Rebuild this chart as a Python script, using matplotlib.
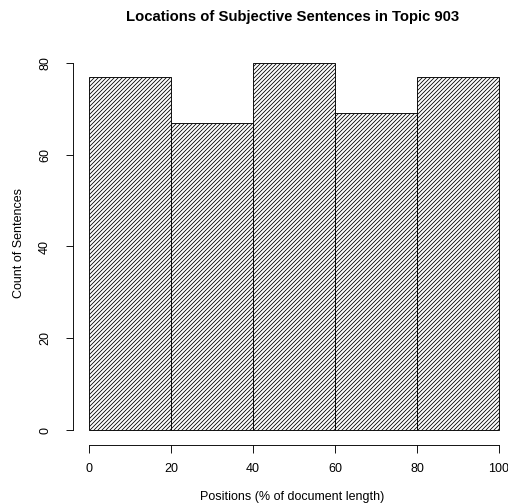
import numpy as np
import matplotlib
matplotlib.use("Agg")
import matplotlib.pyplot as plt

# histogram of sentence positions, Topic 903
breaks = [0, 20, 40, 60, 80, 100]
counts = [77, 67, 80, 69, 77]
xticks = [0, 20, 40, 60, 80, 100]
yticks = [0, 20, 40, 60, 80]

plt.rcParams["font.family"] = ["Liberation Sans", "DejaVu Sans"]
plt.rcParams["hatch.linewidth"] = 0.8

W, H, DPI = 508, 504, 72
fig = plt.figure(figsize=(W / DPI, H / DPI), dpi=DPI, facecolor="white")
# R-style plot region: data range plus 4% on each side
ax = fig.add_axes([72.6 / W, (H - 444.7) / H, 442.8 / W, 396.4 / H])

edges = np.array(breaks)
ax.bar(edges[:-1], counts, width=np.diff(edges), align="edge",
       facecolor="white", edgecolor="black", linewidth=0.9, hatch="//////")

ax.set_xlim(-4, 104)
ax.set_ylim(-3.2, 83.2)
for s in ("top", "right"):
    ax.spines[s].set_visible(False)
ax.spines["left"].set_bounds(0, 80)
ax.spines["bottom"].set_bounds(0, 100)
ax.spines["left"].set_linewidth(0.9)
ax.spines["bottom"].set_linewidth(0.9)

ax.set_xticks(xticks)
ax.set_yticks(yticks)
ax.set_yticklabels([str(v) for v in yticks], rotation=90, va="center")
ax.tick_params(axis="both", length=7.5, width=0.9, labelsize=12.5)
ax.tick_params(axis="x", pad=11)
ax.tick_params(axis="y", pad=14)

fig.text(293 / W, 1 - 17 / H, "Locations of Subjective Sentences in Topic 903",
         ha="center", va="center", fontsize=14.9, fontweight="bold")
fig.text(292 / W, 1 - 497 / H, "Positions (% of document length)",
         ha="center", va="center", fontsize=12.5)
fig.text(19 / W, 1 - 243 / H, "Count of Sentences", rotation=90,
         ha="center", va="center", fontsize=12.5)

fig.savefig("out.png", dpi=DPI, facecolor="white")
